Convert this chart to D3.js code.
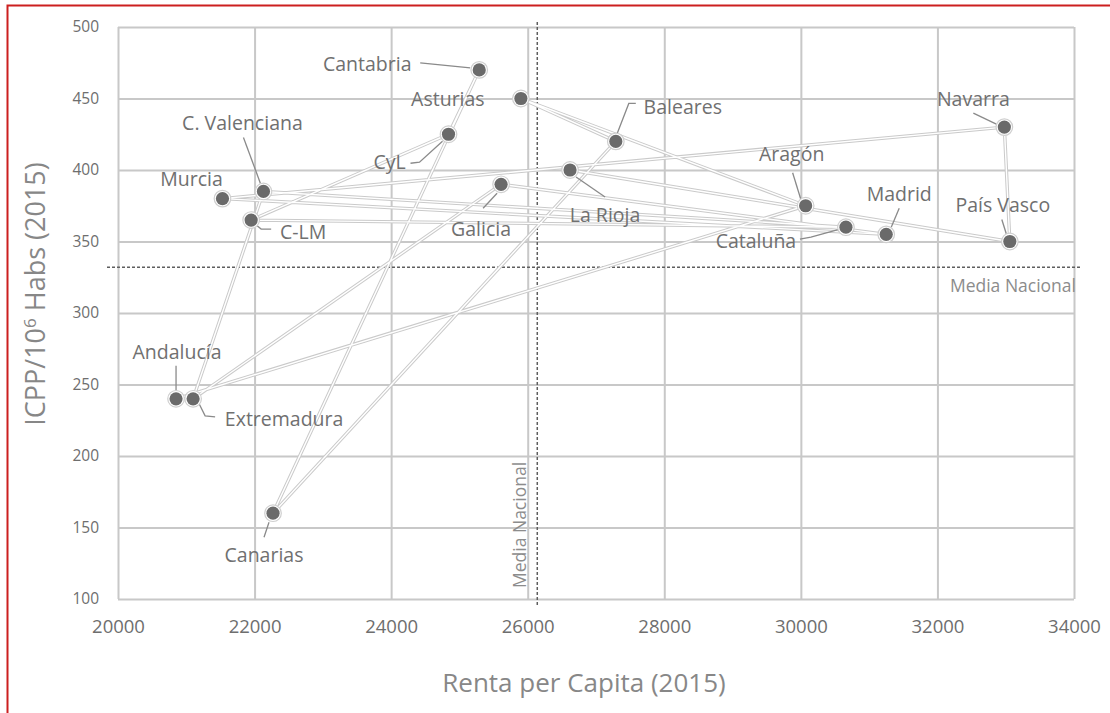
<!DOCTYPE html>
<html>
<head>
<meta charset="utf-8">
<script src="https://cdn.jsdelivr.net/npm/d3@7"></script>
<style>
  body { margin: 0; background: #fff; }
  text { font-family: "Open Sans", sans-serif; }
</style>
</head>
<body>
<div id="chart"></div>
<script>
// data, in the order the series is drawn
const regions = ["Andalucía", "Aragón", "Asturias", "Baleares", "Canarias", "Cantabria", "CyL", "C-LM",
  "Cataluña", "C. Valenciana", "Extremadura", "Galicia", "Madrid", "Murcia", "Navarra", "País Vasco", "La Rioja"];
const renta = [20850, 30070, 25900, 27290, 22270, 25290, 24840, 21950,
  30660, 22130, 21100, 25610, 31250, 21530, 32980, 33060, 26620];
const icpp = [240, 375, 450, 420, 160, 470, 425, 365,
  360, 385, 240, 390, 355, 380, 430, 350, 400];

const xTicks = [20000, 22000, 24000, 26000, 28000, 30000, 32000, 34000];
const yTicks = [100, 150, 200, 250, 300, 350, 400, 450, 500];
const mediaRenta = 26140;
const mediaIcpp = 332;

// label placement (pixel offsets from each point) and leader lines
const labelPos = [
  {dx: 1, dy: -40, lead: [[0, -33], [0, -8]]},
  {dx: -14, dy: -45, lead: [[-13, -33], [-5, -7]]},
  {dx: -73, dy: 7, lead: null},
  {dx: 67, dy: -27, lead: [[20, -38], [13, -38], [1, -7]]},
  {dx: -9, dy: 49, lead: [[-9, 24], [-4, 9]]},
  {dx: -112, dy: 1, lead: [[-59, -7], [-9, -2]]},
  {dx: -59, dy: 35, lead: [[-38, 29], [-29, 28], [-6, 7]]},
  {dx: 52, dy: 19, lead: [[5, 5], [10, 9], [20, 9]]},
  {dx: -90, dy: 21, lead: [[-46, 12], [-35, 10], [-6, 2]]},
  {dx: -21, dy: -61, lead: [[-20, -54], [-3, -8]]},
  {dx: 91, dy: 27, lead: [[6, 5], [12, 17], [22, 18]]},
  {dx: -20, dy: 52, lead: [[-18, 24], [-4, 9]]},
  {dx: 13, dy: -33, lead: [[13, -26], [5, -7]]},
  {dx: -31, dy: -13, lead: null},
  {dx: -31, dy: -21, lead: [[-31, -14], [-8, -3]]},
  {dx: -7, dy: -30, lead: [[-8, -22], [-3, -6]]},
  {dx: 35, dy: 52, lead: [[6, 7], [35, 27]]}
];

const W = 1110, H = 713;
const svg = d3.select("#chart").append("svg")
    .attr("width", W)
    .attr("height", H);

// red frame (only top and left edges are visible in the picture)
svg.append("path")
    .attr("d", `M7.5,${H} L7.5,5.5 L${W},5.5`)
    .attr("fill", "none")
    .attr("stroke", "#cc1f1f")
    .attr("stroke-width", 2);

const x = d3.scaleLinear().domain([20000, 34000]).range([118, 1074]);
const y = d3.scaleLinear().domain([100, 500]).range([599, 27]);

const gridColor = "#c8c8c8";

// x axis + vertical grid
const gx = svg.append("g")
    .attr("transform", `translate(0,${y(100)})`)
    .call(d3.axisBottom(x)
        .tickValues(xTicks)
        .tickSize(-(y(100) - y(500)))
        .tickPadding(21)
        .tickFormat(d3.format("d")));
gx.select(".domain").remove();
gx.selectAll("line").attr("stroke", gridColor).attr("stroke-width", 2);
gx.selectAll("text").attr("fill", "#6e6e6e").style("font-size", "18.5px");

// y axis + horizontal grid
const gy = svg.append("g")
    .attr("transform", `translate(${x(20000)},0)`)
    .call(d3.axisLeft(y)
        .tickValues(yTicks)
        .tickSize(-(x(34000) - x(20000)))
        .tickPadding(19));
gy.select(".domain").remove();
gy.selectAll("line").attr("stroke", gridColor).attr("stroke-width", 2);
gy.selectAll("text").attr("fill", "#6e6e6e").style("font-size", "15.5px");

// media nacional reference lines
svg.append("line")
    .attr("x1", x(mediaRenta)).attr("x2", x(mediaRenta))
    .attr("y1", y(500) - 5).attr("y2", y(100) + 8)
    .attr("stroke", "#5e5e5e").attr("stroke-width", 1.5)
    .attr("stroke-dasharray", "3,2");
svg.append("line")
    .attr("x1", x(20000) - 11).attr("x2", x(34000) + 6)
    .attr("y1", y(mediaIcpp)).attr("y2", y(mediaIcpp))
    .attr("stroke", "#5e5e5e").attr("stroke-width", 1.5)
    .attr("stroke-dasharray", "3,2");

svg.append("text")
    .attr("transform", `translate(${x(mediaRenta) - 11},${y(100) - 11}) rotate(-90)`)
    .attr("fill", "#8c8c8c")
    .style("font-size", "17.5px")
    .text("Media Nacional");
svg.append("text")
    .attr("x", x(34000) + 2)
    .attr("y", y(mediaIcpp) + 25)
    .attr("text-anchor", "end")
    .attr("fill", "#8c8c8c")
    .style("font-size", "17.5px")
    .text("Media Nacional");

// connecting line (gray outline with white core)
const idx = d3.range(regions.length);
const line = d3.line()
    .x(i => x(renta[i]))
    .y(i => y(icpp[i]));

svg.append("path")
    .datum(idx)
    .attr("d", line)
    .attr("fill", "none")
    .attr("stroke", "#cacaca")
    .attr("stroke-width", 3.4)
    .attr("stroke-linejoin", "round");
svg.append("path")
    .datum(idx)
    .attr("d", line)
    .attr("fill", "none")
    .attr("stroke", "#ffffff")
    .attr("stroke-width", 1.4)
    .attr("stroke-linejoin", "round");

// leader lines
svg.selectAll(".leader")
    .data(idx.filter(i => labelPos[i].lead))
  .enter().append("path")
    .attr("class", "leader")
    .attr("d", i => d3.line()(labelPos[i].lead.map(p => [x(renta[i]) + p[0], y(icpp[i]) + p[1]])))
    .attr("fill", "none")
    .attr("stroke", "#8a8a8a")
    .attr("stroke-width", 1.3);

// points
svg.selectAll(".ring")
    .data(idx)
  .enter().append("circle")
    .attr("class", "ring")
    .attr("cx", i => x(renta[i]))
    .attr("cy", i => y(icpp[i]))
    .attr("r", 8.3)
    .attr("fill", "#ffffff")
    .attr("stroke", "#cfcfcf")
    .attr("stroke-width", 1.2);
svg.selectAll(".point")
    .data(idx)
  .enter().append("circle")
    .attr("class", "point")
    .attr("cx", i => x(renta[i]))
    .attr("cy", i => y(icpp[i]))
    .attr("r", 6.6)
    .attr("fill", "#6a6a6a");

// labels
svg.selectAll(".label")
    .data(idx)
  .enter().append("text")
    .attr("class", "label")
    .attr("x", i => x(renta[i]) + labelPos[i].dx)
    .attr("y", i => y(icpp[i]) + labelPos[i].dy)
    .attr("text-anchor", "middle")
    .attr("fill", "#707070")
    .style("font-size", "19.5px")
    .text(i => regions[i]);

// axis titles
svg.append("text")
    .attr("x", 584)
    .attr("y", 692)
    .attr("text-anchor", "middle")
    .attr("fill", "#878787")
    .style("font-size", "26px")
    .text("Renta per Capita (2015)");

const yTitle = svg.append("text")
    .attr("transform", "translate(45,294) rotate(-90)")
    .attr("text-anchor", "middle")
    .attr("fill", "#878787")
    .style("font-size", "27px");
yTitle.append("tspan").text("ICPP/10");
yTitle.append("tspan").attr("dy", -9).style("font-size", "17px").text("6");
yTitle.append("tspan").attr("dy", 9).text(" Habs (2015)");
</script>
</body>
</html>
